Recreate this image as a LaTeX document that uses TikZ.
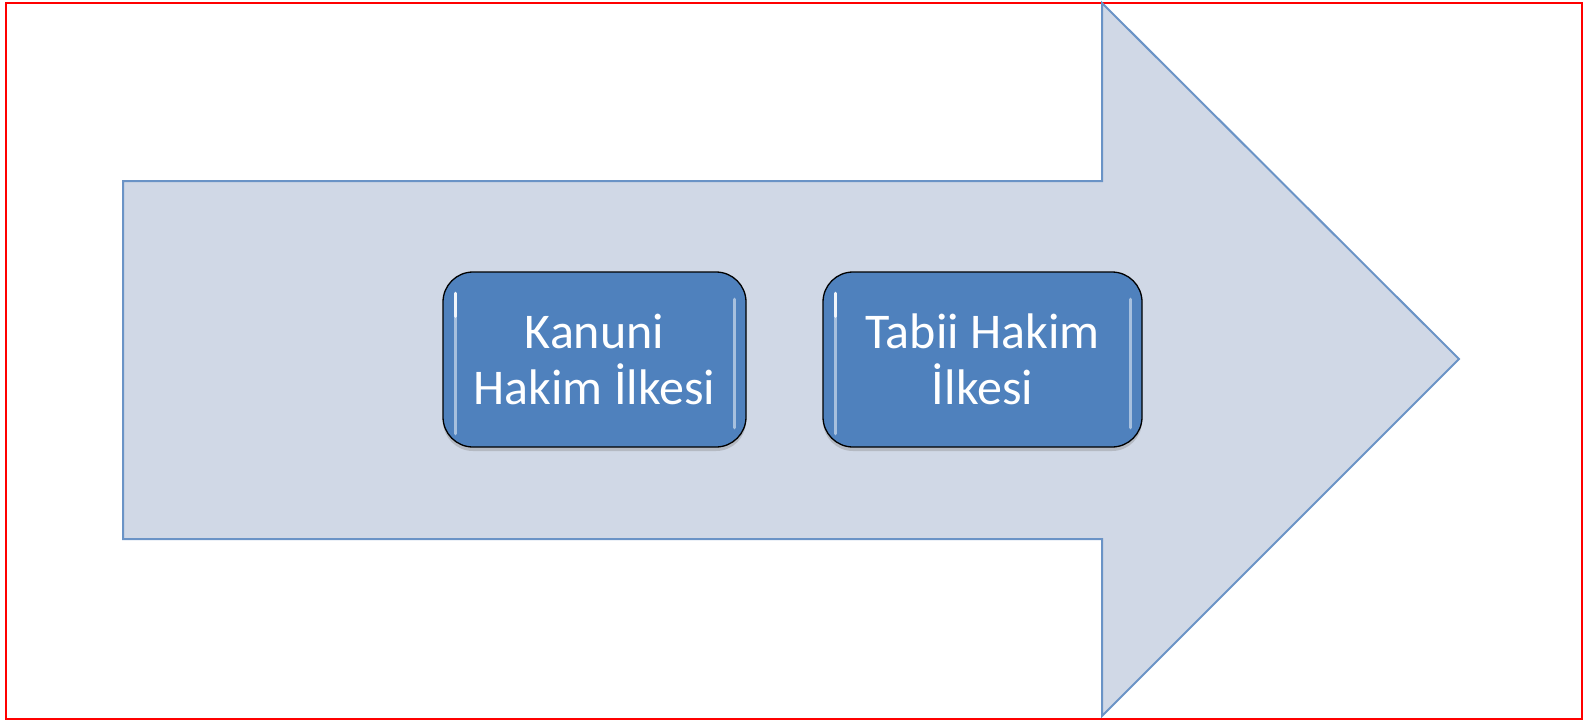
\documentclass[tikz,border=0pt]{standalone}
\usepackage{fontspec}
\setmainfont{Carlito}
\usetikzlibrary{shadows}
\definecolor{arrowfill}{HTML}{D0D8E6}
\definecolor{arrowline}{HTML}{6A93C6}
\definecolor{boxfill}{HTML}{4F81BD}
\tikzset{
  bigarrow/.style={fill=arrowfill, draw=arrowline, line width=2pt, line join=miter},
  glossbox/.style={fill=boxfill, draw=black, line width=1.3pt, rounded corners=30pt,
    text=white, align=center, inner sep=0pt,
    font=\fontsize{50}{56}\selectfont,
    drop shadow={opacity=0.35, shadow xshift=0pt, shadow yshift=-4pt}},
  gloss/.style={draw=white, line width=3.5pt, line cap=round, opacity=0.5},
  glossbright/.style={draw=white, line width=3pt, line cap=round, opacity=0.85},
  frame/.style={draw=red, line width=2.5pt}
}
\begin{document}
\begin{tikzpicture}[x=1pt,y=-1pt]
\useasboundingbox (0,0) rectangle (1587,721);
\draw[frame] (6,3) rectangle (1582,719);
\draw[bigarrow] (123,181) -- (1102,181) -- (1102,3) -- (1459,359) -- (1102,716) -- (1102,539) -- (123,539) -- cycle;
\node[glossbox, minimum width=303pt, minimum height=175pt] (k) at (594.5,359.5) {Kanuni\\Hakim İlkesi};
\node[glossbox, minimum width=319pt, minimum height=175pt] (t) at (982.5,359.5) {Tabii Hakim\\İlkesi};
% gloss highlights
\draw[gloss] ([xshift=13pt,yshift=-22pt]k.north west) -- ([xshift=13pt,yshift=14pt]k.south west);
\draw[glossbright] ([xshift=13pt,yshift=-22pt]k.north west) -- ([xshift=13pt,yshift=-45pt]k.north west);
\draw[gloss] ([xshift=-12pt,yshift=-28pt]k.north east) -- ([xshift=-12pt,yshift=20pt]k.south east);
\draw[gloss] ([xshift=13pt,yshift=-22pt]t.north west) -- ([xshift=13pt,yshift=14pt]t.south west);
\draw[glossbright] ([xshift=13pt,yshift=-22pt]t.north west) -- ([xshift=13pt,yshift=-45pt]t.north west);
\draw[gloss] ([xshift=-12pt,yshift=-28pt]t.north east) -- ([xshift=-12pt,yshift=20pt]t.south east);
\end{tikzpicture}
\end{document}
